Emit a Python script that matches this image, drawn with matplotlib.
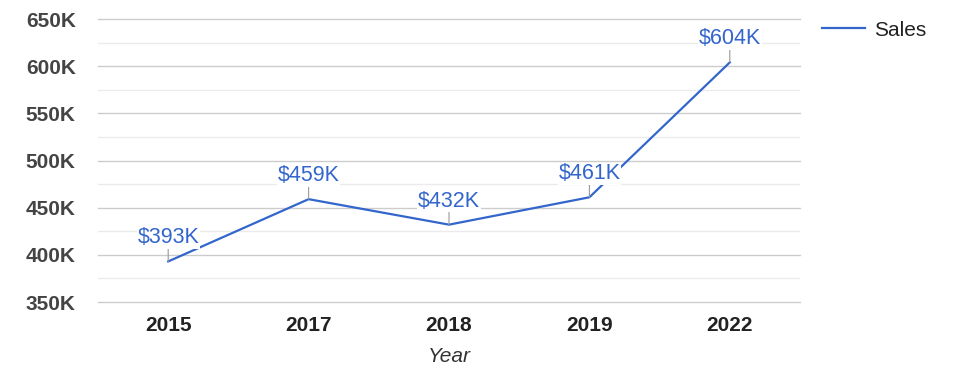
import matplotlib
matplotlib.use("Agg")
import matplotlib.pyplot as plt

# data
years = ["2015", "2017", "2018", "2019", "2022"]
sales = [393, 459, 432, 461, 604]  # thousands of dollars
yticks = [350, 400, 450, 500, 550, 600, 650]

plt.rcParams['font.family'] = ['Liberation Sans', 'DejaVu Sans']

fig = plt.figure(figsize=(9.75, 3.78), dpi=100)
ax = fig.add_axes([98 / 975, 1 - 302 / 378, 702 / 975, 283 / 378])

x = list(range(len(years)))
line, = ax.plot(x, sales, color="#3366CC", lw=1.6, label="Sales", zorder=3)

# data labels with a small leader line
for xi, v in zip(x, sales):
    ax.annotate("$%dK" % v, xy=(xi, v), xytext=(0, 13), textcoords="offset pixels",
                ha="center", va="bottom", fontsize=15.5, color="#3366CC",
                bbox=dict(facecolor="white", edgecolor="none", pad=0.5),
                arrowprops=dict(arrowstyle="-", color="#999999", lw=0.8,
                                shrinkA=0, shrinkB=0), zorder=4)

ax.set_xlim(-0.5, len(years) - 0.5)
ax.set_ylim(350, 650)
ax.set_yticks(yticks)
ax.set_yticklabels(["%dK" % t for t in yticks], fontsize=15, fontweight="bold", color="#444444")
ax.set_yticks([375, 425, 475, 525, 575, 625], minor=True)
ax.set_xticks(x)
ax.set_xticklabels(years, fontsize=15, fontweight="bold", color="#222222")
ax.tick_params(axis="both", which="both", length=0)
ax.tick_params(axis="y", pad=16)
ax.tick_params(axis="x", pad=10)

ax.grid(axis="y", which="major", color="#cccccc", lw=1)
ax.grid(axis="y", which="minor", color="#ebebeb", lw=1)
for gl in ax.get_ygridlines():
    gl.set_clip_on(False)
ax.set_axisbelow(True)
for s in ax.spines.values():
    s.set_visible(False)

ax.set_xlabel("Year", fontsize=15, fontstyle="italic", color="#333333", labelpad=9)

ax.legend(handles=[line], loc="upper left", bbox_to_anchor=(1.004, 1.06), frameon=False,
          fontsize=15, labelcolor="#222222", handlelength=2.1, handletextpad=0.4)

fig.savefig("out.png", dpi=100)
